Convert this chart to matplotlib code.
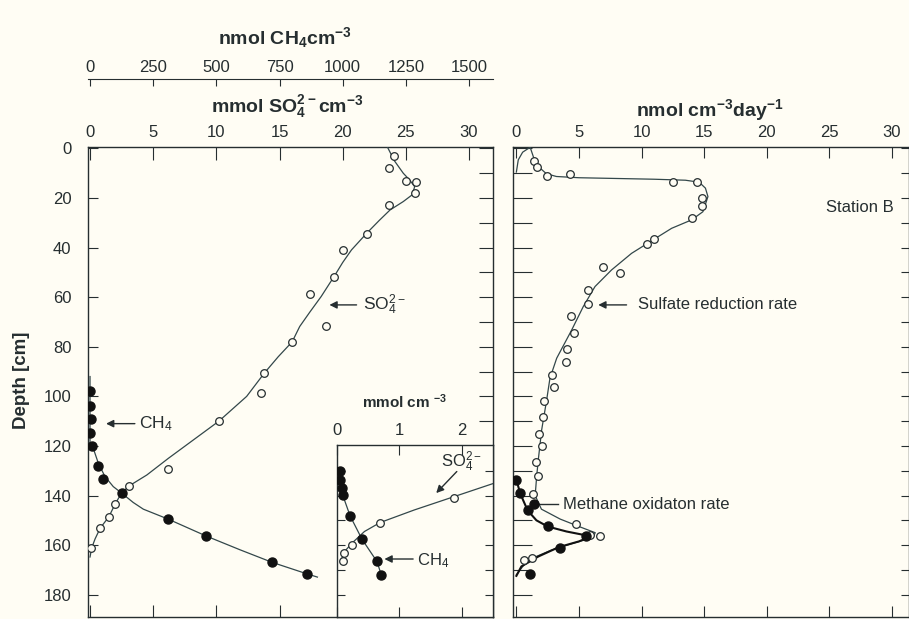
import matplotlib
matplotlib.use('Agg')
import matplotlib.pyplot as plt

plt.rcParams['font.family'] = ['Liberation Sans', 'DejaVu Sans']
plt.rcParams['mathtext.default'] = 'regular'

# ---------------- data ----------------
# Sulfate porewater profile (mmol SO4 cm-3) vs depth (cm)
so4_depth = [2.9, 7.7, 13.0, 13.5, 17.8, 22.9, 34.5, 40.9, 51.7, 58.8, 71.6, 78.0,
             90.6, 98.5, 110.0, 129.4, 136.1, 143.3, 148.5, 153.2, 161.2]
so4_conc = [24.1, 23.7, 25.0, 25.8, 25.7, 23.7, 21.9, 20.0, 19.3, 17.4, 18.7, 16.0,
            13.8, 13.5, 10.2, 6.2, 3.1, 2.0, 1.5, 0.8, 0.1]
so4_fit_depth = [-1, 5, 10, 12.7, 15.4, 18.7, 21.4, 24.8, 29, 34.2, 40.9, 46, 51, 59.7,
                 66, 71.8, 78, 84, 90.6, 100, 110, 117.5, 125, 131.7, 136.1, 139, 143.3,
                 148.5, 153.2, 157.5, 161.2, 164.8]
so4_fit_conc = [23.5, 24.1, 24.8, 25.3, 25.7, 25.5, 24.8, 23.75, 22.9, 21.9, 20.7, 20.0,
                19.4, 18.3, 17.4, 16.6, 16.0, 14.9, 13.8, 12.4, 10.2, 8.2, 6.2, 4.5, 3.1,
                2.5, 2.0, 1.5, 0.8, 0.4, 0.13, 0.0]

# Methane profile (nmol CH4 cm-3)
ch4_depth = [98, 103.8, 109.3, 114.6, 120.2, 128, 133.4, 139, 149.5, 156.3, 167, 171.6]
ch4_conc = [0, 0, 3, 0, 7, 33, 53, 125, 309, 459, 722, 859]
ch4_fit_depth = [92, 120, 121, 127, 132.3, 136.4, 139, 142.8, 145.5, 149.5, 156.3,
                 161.9, 167, 171.6, 172.9]
ch4_fit_conc = [0, 0, 13, 33, 59, 92, 125, 171, 211, 309, 459, 594, 722, 859, 900]

# Inset: sulfate-methane transition zone (mmol cm-3)
inset_ch4_depth = [129.9, 133.7, 137, 139.7, 148.2, 157.6, 166.6, 172]
inset_ch4_conc = [0.05, 0.05, 0.08, 0.09, 0.21, 0.40, 0.64, 0.71]
inset_ch4_fit_depth = [129, 139.7, 148.2, 157.6, 166.6, 172]
inset_ch4_fit_conc = [0.04, 0.09, 0.21, 0.40, 0.64, 0.71]
inset_so4_depth = [140.8, 150.9, 159.8, 163.2, 166.5]
inset_so4_conc = [1.88, 0.69, 0.24, 0.11, 0.09]
inset_so4_fit_depth = [134.4, 135, 140.4, 145.8, 150.9, 154.5, 159.2, 162.6, 166.6]
inset_so4_fit_conc = [2.6, 2.52, 1.88, 1.24, 0.69, 0.44, 0.24, 0.12, 0.06]

# Rates (nmol cm-3 day-1)
srr_depth = [4.9, 7.6, 11.1, 10.4, 13.4, 13.4, 20.1, 23.2, 28.1, 36.6, 38.6, 47.9, 50.3,
             57.1, 62.7, 67.4, 74.3, 80.8, 86.2, 91.3, 96.3, 101.7, 108.5, 115.3, 120.2,
             126.3, 132.3, 139.2, 151.6, 155.9, 156.2, 165.1, 166.2]
srr_rate = [1.43, 1.67, 2.47, 4.28, 12.53, 14.40, 14.80, 14.80, 14.00, 10.99, 10.41, 6.89,
            8.27, 5.69, 5.74, 4.36, 4.60, 4.02, 3.94, 2.82, 3.00, 2.23, 2.15, 1.83, 2.07,
            1.57, 1.75, 1.31, 4.78, 5.92, 6.64, 1.25, 0.58]
srr_fit_depth = [9.5, 4.6, 1.5, -0.5, 4, 7.5, 10.2, 11.3, 11.8, 12.1, 12.4, 12.8, 13.6, 16,
                 19.4, 22.5, 25.5, 28.8, 32.2, 36.6, 42.3, 49, 55.7, 63.8, 73.2, 84.6,
                 92.7, 101.4, 113.5, 125.6, 132.3, 140, 145.5, 149.5, 152.5, 155, 157,
                 159.3, 162, 165, 168, 172]
srr_fit_rate = [0.0, 0.15, 0.5, 1.1, 1.4, 1.8, 2.4, 3.2, 5.0, 8.0, 11.0, 13.5, 14.6, 15.1,
                15.3, 15.1, 14.9, 14.0, 12.4, 11.0, 9.2, 7.6, 6.28, 5.34, 4.42, 3.22, 2.68,
                2.42, 2.02, 1.75, 1.62, 1.5, 2.0, 3.5, 5.0, 6.3, 6.1, 4.5, 2.8, 1.4, 0.6, 0.0]
mor_depth = [133.7, 139.1, 143.3, 146.0, 152.4, 156.5, 161.0, 171.7]
mor_rate = [0.0, 0.29, 1.4, 0.92, 2.52, 5.55, 3.45, 1.05]
mor_fit_depth = [133.7, 139, 142, 146, 150, 152.5, 154.5, 155.8, 157, 158.5, 160.8, 164.6,
                 168.6, 172.4]
mor_fit_rate = [0.0, 0.3, 0.55, 0.9, 1.6, 2.5, 4.0, 5.3, 5.7, 5.0, 3.4, 1.75, 0.4, 0.0]

so4_ticks = [0, 5, 10, 15, 20, 25, 30]
ch4_ticks = [0, 250, 500, 750, 1000, 1250, 1500]
depth_ticks = [0, 20, 40, 60, 80, 100, 120, 140, 160, 180]
inset_ticks = [0, 1, 2]

# ---------------- style ----------------
BG = '#fffdf4'
INK = '#262e30'
LINE = '#33474a'
W, H = 909, 619
DEPTH_LIM = (189, -0.6)

fig = plt.figure(figsize=(W / 100, H / 100), dpi=100, facecolor=BG)


def rect(x0, y0, x1, y1):
    return [x0 / W, 1 - y1 / H, (x1 - x0) / W, (y1 - y0) / H]


def ftext(x, y, s, **kw):
    fig.text(x / W, 1 - y / H, s, color=INK, **kw)


def style_spines(a, lw=1.0):
    for sp in a.spines.values():
        sp.set_color(INK)
        sp.set_linewidth(lw)


def right_tick_twin(a, length):
    """Extra depth ticks every 10 cm along the right spine."""
    t = a.twinx()
    t.set_ylim(*DEPTH_LIM)
    t.set_yticks(range(0, 181, 10))
    t.tick_params(axis='y', direction='in', length=length, labelright=False, colors=INK)
    for sp in t.spines.values():
        sp.set_visible(False)
    return t


open_kw = dict(ls='none', marker='o', mfc=BG, mec=INK, ms=5.5, mew=0.9, zorder=4)
fill_kw = dict(ls='none', marker='o', mfc='#111111', mec='#111111', ms=6.5, zorder=4)
arrow_kw = dict(arrowstyle='-|>', color=INK, lw=1.0, mutation_scale=11,
                shrinkA=0, shrinkB=0)

# ---------------- left panel: porewater ----------------
ax = fig.add_axes(rect(88, 147, 493, 617), facecolor=BG)
style_spines(ax)
axr = right_tick_twin(ax, 10)
axc = ax.twiny()  # methane concentration axis on top

ax.set_xlim(-0.16, 31.9)
ax.set_ylim(*DEPTH_LIM)
ax.set_xticks(so4_ticks)
ax.set_yticks(depth_ticks)
ax.tick_params(axis='x', top=True, bottom=True, labeltop=True, labelbottom=False,
               direction='in', length=9, pad=5, labelsize=12, colors=INK)
ax.tick_params(axis='y', left=True, right=False, labelleft=True, labelright=False,
               direction='in', length=7, pad=12, labelsize=12, colors=INK)

ax.plot(so4_fit_conc, so4_fit_depth, color=LINE, lw=0.9, zorder=3)
ax.plot(so4_conc, so4_depth, **open_kw)

axc.set_xlim(-0.16 * 50, 31.9 * 50)
axc.set_xticks(ch4_ticks)
for name in ('bottom', 'left', 'right'):
    axc.spines[name].set_visible(False)
axc.spines['top'].set_position(('outward', 49))
axc.spines['top'].set_color(INK)
axc.tick_params(axis='x', top=True, bottom=False, labeltop=True, labelbottom=False,
                direction='in', length=5, pad=3, labelsize=12, colors=INK)
axc.plot(ch4_fit_conc, ch4_fit_depth, color=LINE, lw=0.9, zorder=3)
axc.plot(ch4_conc, ch4_depth, **fill_kw)

ax.annotate('', xy=(18.95, 63.1), xytext=(21.1, 63.1), arrowprops=arrow_kw)
ax.text(21.6, 63.1, 'SO$_4^{2-}$', fontsize=12.5, color=INK, va='center', ha='left')
ax.annotate('', xy=(1.27, 111), xytext=(3.55, 111), arrowprops=arrow_kw)
ax.text(3.9, 111, 'CH$_4$', fontsize=12.5, color=INK, va='center', ha='left')

# ---------------- inset: transition zone ----------------
axi = fig.add_axes(rect(337, 445, 493, 617), facecolor=BG)
style_spines(axi)
axi.set_xlim(0, 2.5)
axi.set_ylim(189, 119.6)
axi.set_xticks(inset_ticks)
axi.set_yticks(range(130, 190, 10))
axi.tick_params(axis='x', top=True, bottom=True, labeltop=True, labelbottom=False,
                direction='in', length=7, pad=5, labelsize=12, colors=INK)
axi.tick_params(axis='y', left=True, right=True, labelleft=False, direction='in',
                length=6, colors=INK)
axi.plot(inset_so4_fit_conc, inset_so4_fit_depth, color=LINE, lw=0.9, zorder=3)
axi.plot(inset_ch4_fit_conc, inset_ch4_fit_depth, color=LINE, lw=0.9, zorder=3)
axi.plot(inset_so4_conc, inset_so4_depth, **open_kw)
axi.plot(inset_ch4_conc, inset_ch4_depth, **fill_kw)
axi.annotate('', xy=(1.59, 139), xytext=(1.92, 130.3), arrowprops=arrow_kw)
axi.text(1.67, 126.3, 'SO$_4^{2-}$', fontsize=12, color=INK, va='center', ha='left')
axi.annotate('', xy=(0.76, 165.6), xytext=(1.22, 165.6), arrowprops=arrow_kw)
axi.text(1.28, 166.3, 'CH$_4$', fontsize=12, color=INK, va='center', ha='left')

# ---------------- right panel: rates ----------------
axR = fig.add_axes(rect(513, 147, 909, 617), facecolor=BG)
style_spines(axR)
axRr = right_tick_twin(axR, 6)
axR.set_xlim(-0.27, 31.36)
axR.set_ylim(*DEPTH_LIM)
axR.set_xticks(so4_ticks)
axR.set_yticks(range(0, 181, 10))
axR.tick_params(axis='x', top=True, bottom=True, labeltop=True, labelbottom=False,
                direction='in', length=8, pad=5, labelsize=12, colors=INK)
axR.tick_params(axis='y', left=True, right=False, labelleft=False, direction='in',
                length=14, colors=INK)

axR.plot(srr_fit_rate, srr_fit_depth, color=LINE, lw=0.9, zorder=3)
axR.plot(mor_fit_rate, mor_fit_depth, color='#111111', lw=1.5, zorder=3)
axR.plot(srr_rate, srr_depth, **open_kw)
axR.plot(mor_rate, mor_depth, **fill_kw)

axR.annotate('', xy=(6.54, 63.1), xytext=(8.8, 63.1), arrowprops=arrow_kw)
axR.text(9.74, 63.1, 'Sulfate reduction rate', fontsize=12, color=INK,
         va='center', ha='left')
axR.plot([1.5, 3.3], [143.3, 143.3], color=INK, lw=1.0, zorder=3)
axR.text(3.72, 143.8, 'Methane oxidaton rate', fontsize=12, color=INK,
         va='center', ha='left')
axR.text(27.4, 24, 'Station B', fontsize=12, color=INK, va='center', ha='center')

# ---------------- axis titles ----------------
ftext(285, 38, 'nmol CH$_4$cm$^{-3}$', fontsize=14, fontweight='bold',
      ha='center', va='center')
ftext(287, 107, 'mmol SO$_4^{2-}$cm$^{-3}$', fontsize=14, fontweight='bold',
      ha='center', va='center')
ftext(710, 110, 'nmol cm$^{-3}$day$^{-1}$', fontsize=14, fontweight='bold',
      ha='center', va='center')
ftext(405, 402, 'mmol cm $^{-3}$', fontsize=11, fontweight='bold',
      ha='center', va='center')
ftext(22, 380, 'Depth [cm]', fontsize=13.5, fontweight='bold', rotation=90,
      ha='center', va='center')

fig.savefig('out.png', dpi=100, facecolor=BG)
